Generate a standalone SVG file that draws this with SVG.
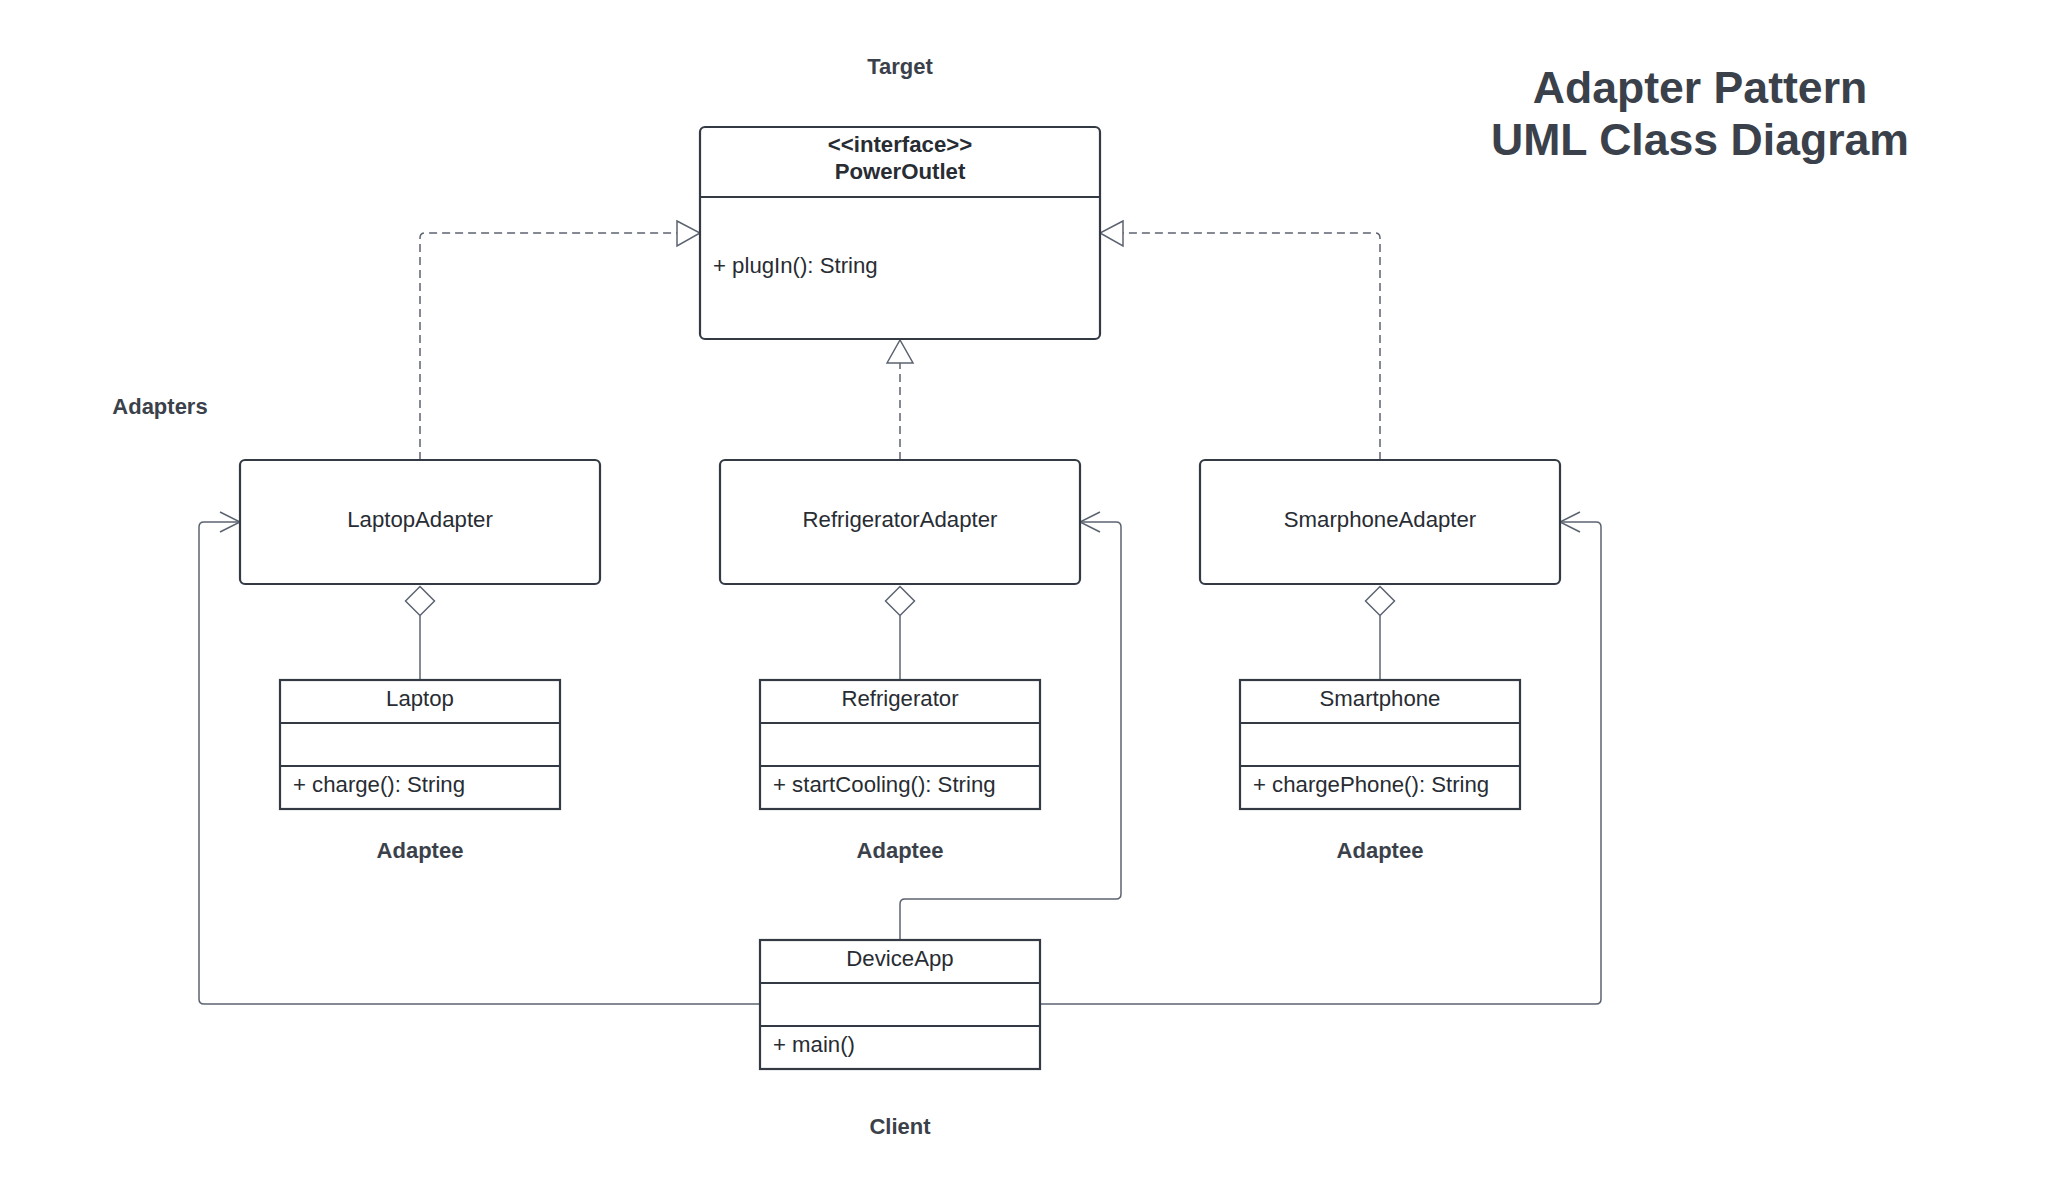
<svg xmlns="http://www.w3.org/2000/svg" width="2060" height="1200" viewBox="0 0 2060 1200">
<style>
  text { font-family: "Liberation Sans", Arial, sans-serif; }
  .box { fill: #ffffff; stroke: #333a44; stroke-width: 2.2; }
  .div { stroke: #333a44; stroke-width: 2.2; }
  .name { font-size: 22.2px; fill: #282c33; text-anchor: middle; }
  .member { font-size: 22.2px; fill: #282c33; }
  .bold { font-size: 22.2px; font-weight: bold; fill: #282c33; text-anchor: middle; }
  .label { font-size: 22px; font-weight: bold; fill: #3a414a; text-anchor: middle; }
  .title { font-size: 44.6px; font-weight: bold; fill: #3a414a; text-anchor: middle; }
  .conn { fill: none; stroke: #5c6370; stroke-width: 1.5; }
  .dash { stroke-dasharray: 8 5; }
  .head { fill: #ffffff; stroke: #5c6370; stroke-width: 1.5; }
</style>
<rect width="2060" height="1200" fill="#ffffff"/>

<g id="title">
  <text class="title" x="1700" y="103">Adapter Pattern</text>
  <text class="title" x="1700" y="155">UML Class Diagram</text>
</g>

<g id="labels">
  <text class="label" x="900" y="74">Target</text>
  <text class="label" x="160" y="414">Adapters</text>
  <text class="label" x="420" y="858">Adaptee</text>
  <text class="label" x="900" y="858">Adaptee</text>
  <text class="label" x="1380" y="858">Adaptee</text>
  <text class="label" x="900" y="1134">Client</text>
</g>

<g id="connectors">
  <!-- realizations -->
  <path class="conn dash" d="M420,460 V238 Q420,233 425,233 H677"/>
  <polygon class="head" points="677,221 700,233 677,246"/>
  <path class="conn dash" d="M900,460 V363"/>
  <polygon class="head" points="887,363 900,340 913,363"/>
  <path class="conn dash" d="M1380,460 V238 Q1380,233 1375,233 H1123"/>
  <polygon class="head" points="1123,221 1100,233 1123,246"/>
  <!-- aggregations -->
  <path class="conn" d="M420,615.5 V680"/>
  <polygon class="head" points="420,586.5 434.5,601 420,615.5 405.5,601"/>
  <path class="conn" d="M900,615.5 V680"/>
  <polygon class="head" points="900,586.5 914.5,601 900,615.5 885.5,601"/>
  <path class="conn" d="M1380,615.5 V680"/>
  <polygon class="head" points="1380,586.5 1394.5,601 1380,615.5 1365.5,601"/>
  <!-- associations -->
  <path class="conn" d="M760,1004 H204 Q199,1004 199,999 V527 Q199,522 204,522 H240"/>
  <path class="conn" d="M220,512 L240,522 L220,532"/>
  <path class="conn" d="M900,940 V904 Q900,899 905,899 H1116 Q1121,899 1121,894 V527 Q1121,522 1116,522 H1080"/>
  <path class="conn" d="M1100,512 L1080,522 L1100,532"/>
  <path class="conn" d="M1040,1004 H1596 Q1601,1004 1601,999 V527 Q1601,522 1596,522 H1560"/>
  <path class="conn" d="M1580,512 L1560,522 L1580,532"/>
</g>

<g id="PowerOutlet">
  <rect class="box" x="700" y="127" width="400" height="212" rx="5"/>
  <line class="div" x1="700" y1="197" x2="1100" y2="197"/>
  <text class="bold" x="900" y="152">&lt;&lt;interface&gt;&gt;</text>
  <text class="bold" x="900" y="179">PowerOutlet</text>
  <text class="member" x="713" y="273">+ plugIn(): String</text>
</g>

<g id="LaptopAdapter">
  <rect class="box" x="240" y="460" width="360" height="124" rx="5"/>
  <text class="name" x="420" y="527">LaptopAdapter</text>
</g>
<g id="RefrigeratorAdapter">
  <rect class="box" x="720" y="460" width="360" height="124" rx="5"/>
  <text class="name" x="900" y="527">RefrigeratorAdapter</text>
</g>
<g id="SmarphoneAdapter">
  <rect class="box" x="1200" y="460" width="360" height="124" rx="5"/>
  <text class="name" x="1380" y="527">SmarphoneAdapter</text>
</g>

<g id="Laptop">
  <rect class="box" x="280" y="680" width="280" height="129"/>
  <line class="div" x1="280" y1="723" x2="560" y2="723"/>
  <line class="div" x1="280" y1="766" x2="560" y2="766"/>
  <text class="name" x="420" y="706">Laptop</text>
  <text class="member" x="293" y="792">+ charge(): String</text>
</g>
<g id="Refrigerator">
  <rect class="box" x="760" y="680" width="280" height="129"/>
  <line class="div" x1="760" y1="723" x2="1040" y2="723"/>
  <line class="div" x1="760" y1="766" x2="1040" y2="766"/>
  <text class="name" x="900" y="706">Refrigerator</text>
  <text class="member" x="773" y="792">+ startCooling(): String</text>
</g>
<g id="Smartphone">
  <rect class="box" x="1240" y="680" width="280" height="129"/>
  <line class="div" x1="1240" y1="723" x2="1520" y2="723"/>
  <line class="div" x1="1240" y1="766" x2="1520" y2="766"/>
  <text class="name" x="1380" y="706">Smartphone</text>
  <text class="member" x="1253" y="792">+ chargePhone(): String</text>
</g>

<g id="DeviceApp">
  <rect class="box" x="760" y="940" width="280" height="129"/>
  <line class="div" x1="760" y1="983" x2="1040" y2="983"/>
  <line class="div" x1="760" y1="1026" x2="1040" y2="1026"/>
  <text class="name" x="900" y="966">DeviceApp</text>
  <text class="member" x="773" y="1052">+ main()</text>
</g>
</svg>
